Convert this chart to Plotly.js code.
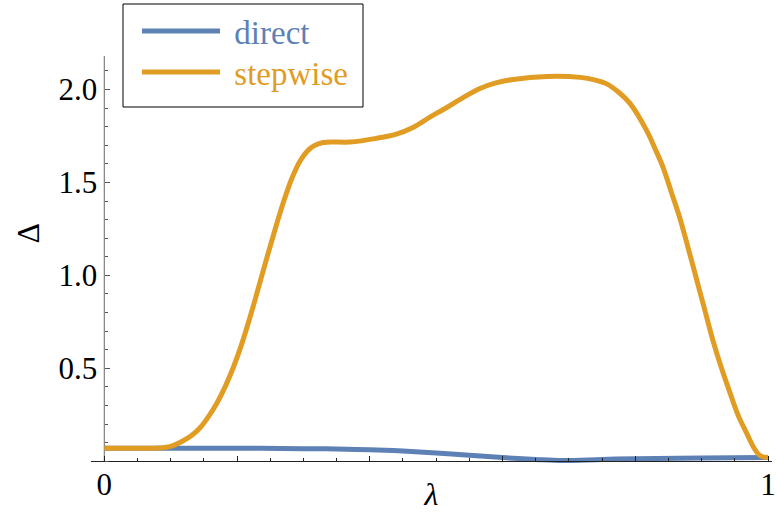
<!DOCTYPE html>
<html><head><meta charset="utf-8">
<script src="https://cdn.plot.ly/plotly-3.0.1.min.js"></script>
<style>body{margin:0;background:#fff}</style></head>
<body><div id="chart" style="width:777px;height:518px"></div>
<script>
// ---- data ----
const seriesNames = ['direct', 'stepwise'];
const lambdaDirect = [0, 0.1, 0.2, 0.3, 0.35, 0.4, 0.45, 0.5, 0.55, 0.6, 0.65, 0.69, 0.75, 0.8, 0.9, 1.0];
const deltaDirect  = [0.07, 0.07, 0.07, 0.068, 0.066, 0.062, 0.055, 0.045, 0.032, 0.02, 0.01, 0.004, 0.01, 0.014, 0.018, 0.02];
const lambdaStepwise = [0, 0.05, 0.08, 0.1, 0.12, 0.132, 0.145, 0.157, 0.17, 0.182, 0.195, 0.207, 0.22, 0.232, 0.245, 0.258, 0.27, 0.283, 0.295, 0.305, 0.315, 0.33, 0.37, 0.41, 0.44, 0.465, 0.49, 0.516, 0.54, 0.566, 0.59, 0.616, 0.667, 0.717, 0.74, 0.757, 0.775, 0.792, 0.817, 0.83, 0.842, 0.855, 0.867, 0.88, 0.893, 0.905, 0.917, 0.93, 0.943, 0.955, 0.968, 0.978, 0.988, 1.0];
const deltaStepwise  = [0.07, 0.07, 0.071, 0.08, 0.113, 0.14, 0.183, 0.24, 0.315, 0.40, 0.51, 0.63, 0.78, 0.93, 1.095, 1.255, 1.395, 1.525, 1.615, 1.665, 1.695, 1.715, 1.717, 1.737, 1.76, 1.796, 1.85, 1.903, 1.955, 2.005, 2.035, 2.054, 2.07, 2.065, 2.05, 2.03, 1.985, 1.925, 1.78, 1.68, 1.58, 1.44, 1.31, 1.143, 0.97, 0.81, 0.65, 0.5, 0.365, 0.247, 0.15, 0.077, 0.03, 0.02];
const xTickVals = [0, 0.2, 0.4, 0.6, 0.8, 1];
const xTickText = ['0', '', '', '', '', '1'];
const yTickVals = [0.5, 1.0, 1.5, 2.0];
const yTickText = ['0.5', '1.0', '1.5', '2.0'];
const colors = ['#5E81B5', '#E19C24'];

// ---- chart ----
const xRange = [-0.02, 1.006];
const yRange = [-0.02, 2.18];
const font = 'Liberation Serif, Times New Roman, serif';
const W = 777, H = 518, mL = 91, mR = 5, mT = 56, mB = 53;
const pw = W - mL - mR, ph = H - mT - mB;
const px2paperX = p => (p - mL) / pw;
const px2paperY = p => (H - mB - p) / ph;
const gap = '\u2009\u200A';

const traces = [
  {x: lambdaDirect, y: deltaDirect, name: '<span style="color:' + colors[0] + '">' + gap + seriesNames[0] + '</span>',
   legend: 'legend', mode: 'lines', line: {color: colors[0], width: 5, shape: 'spline', smoothing: 1}},
  {x: lambdaStepwise, y: deltaStepwise, name: '<span style="color:' + colors[1] + '">' + gap + seriesNames[1] + '</span>',
   legend: 'legend2', mode: 'lines', line: {color: colors[1], width: 5, shape: 'spline', smoothing: 1}},
  // carrier for the axis titles (no visible marks)
  {x: [], y: [], xaxis: 'x2', yaxis: 'y2', mode: 'lines', showlegend: false, hoverinfo: 'skip'}
];

const legendBase = {xanchor: 'left', yanchor: 'middle',
  borderwidth: 0, bgcolor: 'rgba(0,0,0,0)', font: {family: font, size: 33}, itemwidth: 78};

const layout = {
  width: W, height: H,
  margin: {l: mL, r: mR, t: mT, b: mB, autoexpand: false},
  paper_bgcolor: '#fff', plot_bgcolor: 'rgba(0,0,0,0)',
  font: {family: font, size: 31, color: '#000'},
  showlegend: true,
  legend: Object.assign({}, legendBase, {x: px2paperX(137), y: px2paperY(31)}),
  legend2: Object.assign({}, legendBase, {x: px2paperX(137), y: px2paperY(72)}),
  xaxis: {range: xRange, anchor: 'free', position: (0 - yRange[0]) / (yRange[1] - yRange[0]),
          showgrid: false, zeroline: false, showline: true, linecolor: '#222', linewidth: 1,
          tickmode: 'array', tickvals: xTickVals, ticktext: xTickText,
          ticks: 'inside', ticklen: 5, tickcolor: '#222', tickwidth: 1,
          minor: {dtick: 0.05, tick0: 0, ticks: 'inside', ticklen: 3, tickcolor: '#222', tickwidth: 1},
          tickfont: {family: font, size: 31}, ticklabelstandoff: -4},
  xaxis2: {range: xRange, overlaying: 'x', anchor: 'free', position: 0, side: 'bottom',
           showgrid: false, zeroline: false, showline: false, ticks: '', showticklabels: false,
           title: {text: '<i>λ</i>', font: {family: font, size: 32}, standoff: 17}},
  yaxis: {range: yRange, anchor: 'free', position: (0 - xRange[0]) / (xRange[1] - xRange[0]),
          showgrid: false, zeroline: false, showline: false,
          tickmode: 'array', tickvals: yTickVals, ticktext: yTickText,
          ticks: 'inside', ticklen: 5, tickcolor: '#555', tickwidth: 1,
          minor: {dtick: 0.1, tick0: 0, ticks: 'inside', ticklen: 3, tickcolor: '#555', tickwidth: 1},
          tickfont: {family: font, size: 31}, ticklabelstandoff: 7},
  yaxis2: {range: yRange, domain: [0.1333, 1], anchor: 'free', position: 0, side: 'left',
           showgrid: false, zeroline: false, showline: false, ticks: '', showticklabels: false,
           title: {text: 'Δ', font: {family: font, size: 32}, standoff: 40}},
  shapes: [
    {type: 'line', xref: 'x', yref: 'y', x0: 0, x1: 0, y0: 0, y1: yRange[1],
     line: {color: '#666', width: 1}, layer: 'below'},
    {type: 'rect', xref: 'paper', yref: 'paper',
     x0: px2paperX(123), x1: px2paperX(363), y0: px2paperY(107), y1: px2paperY(4),
     line: {color: '#000', width: 1}, fillcolor: '#fff', layer: 'above'}
  ]
};

Plotly.newPlot('chart', traces, layout, {staticPlot: true, displayModeBar: false});
</script>
</body></html>
